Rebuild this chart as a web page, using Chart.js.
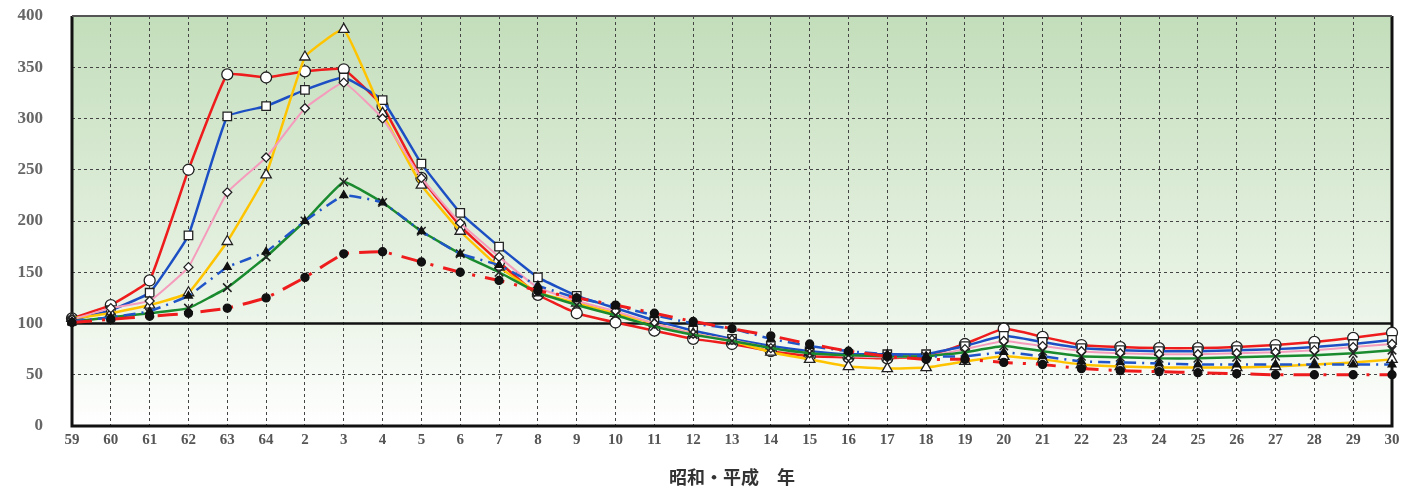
<!DOCTYPE html>
<html><head><meta charset="utf-8">
<script src="https://cdn.jsdelivr.net/npm/chart.js@4/dist/chart.umd.min.js"></script>
<style>html,body{margin:0;padding:0;background:#fff}#wrap{width:1416px;height:494px}</style>
</head><body><div id="wrap"><canvas id="c" width="1416" height="494"></canvas></div>
<script>
const categories = ["59","60","61","62","63","64","2","3","4","5","6","7","8","9","10","11","12","13","14","15","16","17","18","19","20","21","22","23","24","25","26","27","28","29","30"];
const yTicks = [0,50,100,150,200,250,300,350,400];
const xTitle = "昭和・平成　年";

const redCircle   = [105,118,142,250,343,340,346,348,312,242,195,160,128,110,101,93,85,80,73,68,67,66,68,80,95,87,79,77,76,76,77,79,82,86,91];
const blueSquare  = [103,113,130,186,302,312,328,340,318,256,208,175,145,127,115,103,93,85,78,73,70,70,70,78,88,82,76,74,73,73,74,75,77,80,84];
const yellowTri   = [105,110,118,130,180,245,360,387,305,235,190,155,130,120,110,100,90,83,72,65,58,56,57,63,68,65,60,58,57,57,57,58,60,62,65];
const pinkDiamond = [104,115,122,155,228,262,310,335,300,242,198,165,135,122,112,100,90,84,76,71,68,67,68,75,83,78,73,71,70,70,71,72,74,77,80];
const greenCross  = [102,106,110,115,135,165,200,238,218,190,168,150,130,118,108,97,89,83,76,71,69,68,68,72,78,73,68,67,66,66,67,68,69,71,74];
const blueDashTri = [102,106,112,127,155,170,200,225,218,190,168,157,137,125,117,108,100,95,85,78,73,70,68,68,72,68,63,62,61,60,60,60,60,60,60];
const redDashDot  = [101,104,107,110,115,125,145,168,170,160,150,142,132,125,118,110,102,95,88,80,73,68,65,65,62,60,56,54,53,52,51,50,50,50,50];

const bgPlugin = {
  id:'bg',
  beforeDraw(chart){
    const {ctx, chartArea:a, scales:{y}} = chart;
    ctx.save();
    ctx.fillStyle='#fff'; ctx.fillRect(0,0,chart.width,chart.height);
    const g = ctx.createLinearGradient(0,a.top,0,a.bottom);
    const p100 = (y.getPixelForValue(100)-a.top)/(a.bottom-a.top);
    g.addColorStop(0,'#c3debb');
    g.addColorStop(p100,'#edf5ea');
    g.addColorStop(1,'#ffffff');
    ctx.fillStyle=g; ctx.fillRect(a.left,a.top,a.right-a.left,a.bottom-a.top);
    ctx.restore();
  },
  beforeDatasetsDraw(chart){
    const {ctx, chartArea:a, scales:{y}} = chart;
    const py = y.getPixelForValue(100);
    ctx.save();
    ctx.strokeStyle='#111'; ctx.lineWidth=2.5;
    ctx.beginPath(); ctx.moveTo(a.left,py); ctx.lineTo(a.right,py); ctx.stroke();
    ctx.lineWidth=3; ctx.strokeStyle='#111';
    ctx.beginPath(); ctx.moveTo(a.left,a.top); ctx.lineTo(a.left,a.bottom); ctx.lineTo(a.right,a.bottom); ctx.lineTo(a.right,a.top); ctx.stroke();
    ctx.lineWidth=2; ctx.strokeStyle='#555';
    ctx.beginPath(); ctx.moveTo(a.left,a.top); ctx.lineTo(a.right,a.top); ctx.stroke();
    ctx.restore();
  }
};

function ds(data, color, style, opts){
  return Object.assign({
    data, borderColor: color, borderWidth: 2.5, tension: 0.1,
    pointStyle: style, pointRadius: 5, pointBorderWidth: 1.3,
    pointBackgroundColor: '#fff', pointBorderColor: '#222'
  }, opts||{});
}

new Chart(document.getElementById('c'), {
  type:'line',
  data:{
    labels: categories,
    datasets:[
      ds(redDashDot,'#ee1c1c','circle',{borderDash:[20,10,3,10],borderWidth:3,pointRadius:4,pointBackgroundColor:'#111',pointBorderColor:'#111'}),
      ds(blueDashTri,'#1f55c8','triangle',{borderDash:[12,6,2,6],pointRadius:4.5,pointBackgroundColor:'#111',pointBorderColor:'#111'}),
      ds(greenCross,'#1a8a2e','crossRot',{pointRadius:6,pointBorderColor:'#222',pointBorderWidth:1.5}),
      ds(pinkDiamond,'#f59cbd','rectRot',{borderWidth:2,pointRadius:4.5}),
      ds(yellowTri,'#ffc400','triangle',{pointRadius:6}),
      ds(blueSquare,'#1d4fc4','rect',{pointRadius:6}),
      ds(redCircle,'#ee1c1c','circle',{pointRadius:5.5})
    ]
  },
  options:{
    responsive:false, animation:false,
    layout:{padding:{left:0,right:24,top:16,bottom:0}},
    plugins:{legend:{display:false},tooltip:{enabled:false}},
    scales:{
      x:{
        offset:false,
        grid:{color:'#444',lineWidth:1,drawTicks:false},
        border:{display:false,dash:[3,3]},
        ticks:{color:'#555',font:{family:'"Liberation Serif","DejaVu Serif",serif',size:15,weight:'bold'},padding:5,maxRotation:0,autoSkip:false},
        title:{display:true,text:xTitle,color:'#333',font:{family:'"Noto Sans CJK JP",sans-serif',size:18,weight:'bold'},padding:{top:4,bottom:6}},
        afterFit(s){ s.height = 68; s.paddingLeft = 0; s.paddingRight = 0; }
      },
      y:{
        min:0,max:400,
        afterBuildTicks(s){ s.ticks = yTicks.map(v=>({value:v})); },
        grid:{color:'#444',lineWidth:1,drawTicks:false},
        border:{display:false,dash:[3,3]},
        ticks:{color:'#666',font:{family:'"Liberation Serif","DejaVu Serif",serif',size:17,weight:'bold'},padding:29},
        afterFit(s){ s.width = 72; s.paddingTop = 0; s.paddingBottom = 0; }
      }
    }
  },
  plugins:[bgPlugin]
});
</script></body></html>
